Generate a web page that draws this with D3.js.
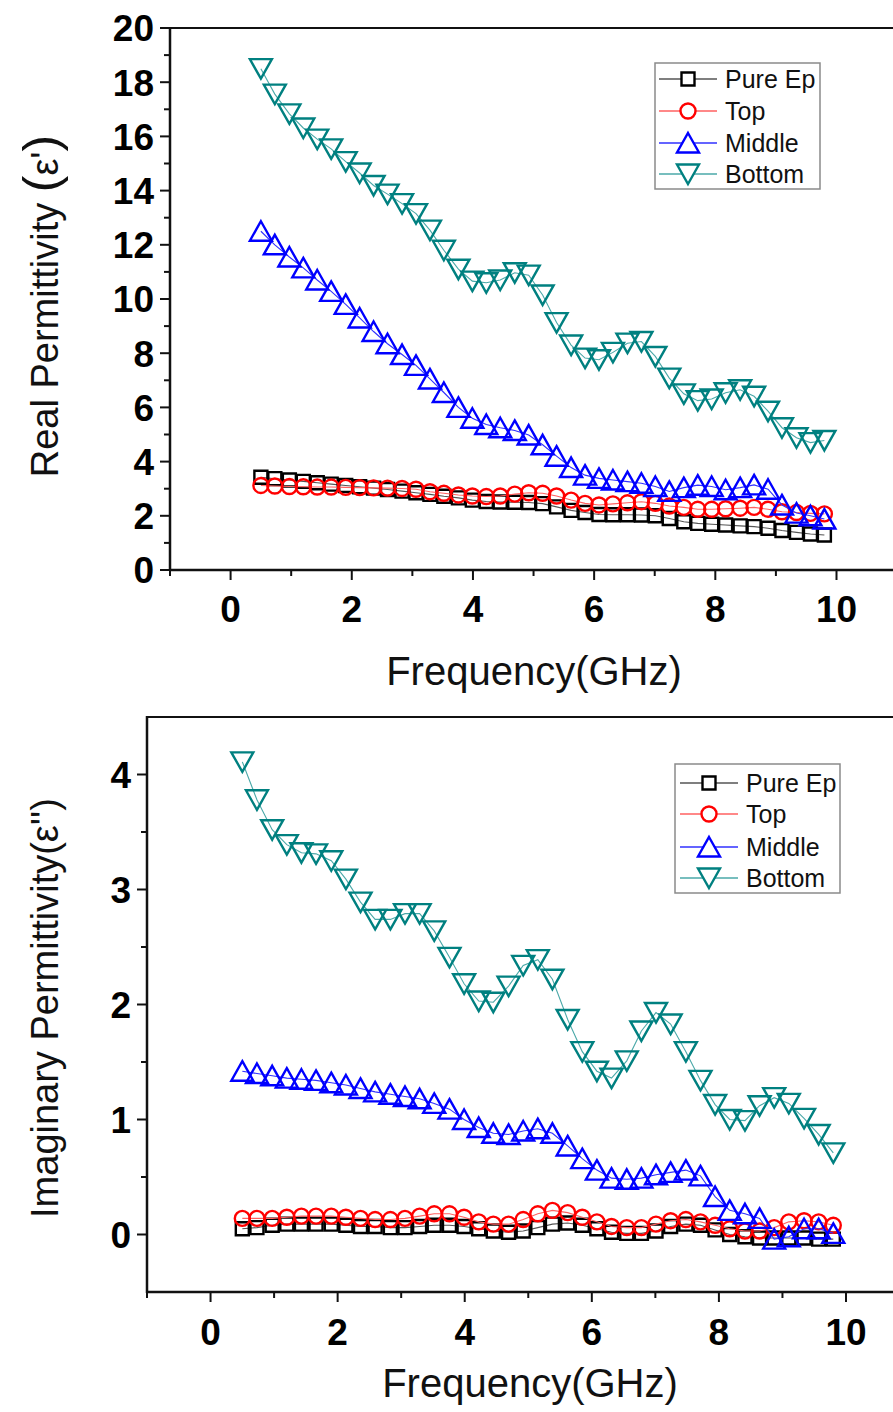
<!DOCTYPE html>
<html>
<head>
<meta charset="utf-8">
<script src="https://cdn.jsdelivr.net/npm/d3@7"></script>
<style>
  html, body { margin: 0; padding: 0; background: #fff; }
  svg { display: block; }
  text { font-family: "Liberation Sans", Arial, sans-serif; }
</style>
</head>
<body>
<svg id="chart" width="893" height="1412"></svg>
<script>
// ---------------- DATA ----------------
const freq = [0.50, 0.73, 0.97, 1.20, 1.43, 1.66, 1.90, 2.13, 2.36, 2.59, 2.83, 3.06, 3.29, 3.52, 3.76, 3.99, 4.22, 4.45, 4.69, 4.92, 5.15, 5.38, 5.62, 5.85, 6.08, 6.31, 6.55, 6.78, 7.01, 7.24, 7.48, 7.71, 7.94, 8.17, 8.41, 8.64, 8.87, 9.10, 9.34, 9.57, 9.80];

const seriesNames = ["Pure Ep", "Top", "Middle", "Bottom"];

// Real permittivity (ε')
const realPureEp = [3.42, 3.37, 3.32, 3.27, 3.22, 3.17, 3.12, 3.07, 3.02, 2.97, 2.91, 2.85, 2.79, 2.72, 2.66, 2.58, 2.53, 2.51, 2.50, 2.49, 2.45, 2.33, 2.20, 2.12, 2.05, 2.04, 2.04, 2.03, 2.00, 1.90, 1.78, 1.72, 1.69, 1.66, 1.63, 1.60, 1.54, 1.46, 1.39, 1.33, 1.29];
const realTop    = [3.12, 3.10, 3.08, 3.07, 3.06, 3.06, 3.05, 3.04, 3.03, 3.02, 3.01, 2.98, 2.89, 2.83, 2.77, 2.73, 2.71, 2.73, 2.80, 2.85, 2.83, 2.73, 2.58, 2.46, 2.40, 2.44, 2.48, 2.52, 2.46, 2.36, 2.31, 2.24, 2.24, 2.26, 2.28, 2.31, 2.24, 2.15, 2.12, 2.09, 2.07];
const realMiddle = [12.5, 12.0, 11.55, 11.15, 10.7, 10.28, 9.8, 9.3, 8.8, 8.35, 7.95, 7.55, 7.05, 6.55, 6.0, 5.6, 5.37, 5.25, 5.15, 4.98, 4.62, 4.2, 3.78, 3.5, 3.38, 3.32, 3.26, 3.2, 3.08, 2.9, 3.04, 3.13, 3.08, 2.96, 3.04, 3.14, 2.98, 2.4, 2.1, 2.0, 1.88];
const realBottom = [18.5, 17.56, 16.83, 16.31, 15.9, 15.54, 15.07, 14.65, 14.19, 13.87, 13.52, 13.15, 12.54, 11.8, 11.1, 10.66, 10.6, 10.7, 10.97, 10.88, 10.15, 9.13, 8.3, 7.82, 7.76, 8.03, 8.37, 8.43, 7.88, 7.08, 6.5, 6.25, 6.31, 6.54, 6.65, 6.41, 5.86, 5.25, 4.88, 4.7, 4.78];

// Imaginary permittivity (ε'')
const imagPureEp = [0.05, 0.06, 0.08, 0.09, 0.09, 0.09, 0.09, 0.08, 0.07, 0.07, 0.06, 0.06, 0.07, 0.08, 0.08, 0.07, 0.05, 0.03, 0.02, 0.03, 0.06, 0.09, 0.10, 0.08, 0.05, 0.02, 0.01, 0.01, 0.03, 0.07, 0.09, 0.08, 0.04, 0.00, -0.02, -0.03, -0.03, -0.03, -0.03, -0.04, -0.04];
const imagTop    = [0.14, 0.14, 0.14, 0.15, 0.16, 0.16, 0.16, 0.15, 0.14, 0.13, 0.13, 0.14, 0.16, 0.18, 0.18, 0.15, 0.11, 0.09, 0.09, 0.13, 0.18, 0.21, 0.19, 0.15, 0.11, 0.07, 0.06, 0.06, 0.09, 0.12, 0.13, 0.11, 0.08, 0.05, 0.03, 0.03, 0.06, 0.11, 0.12, 0.11, 0.08];
const imagMiddle = [1.42, 1.40, 1.38, 1.36, 1.35, 1.34, 1.32, 1.30, 1.27, 1.24, 1.22, 1.20, 1.18, 1.14, 1.09, 1.00, 0.93, 0.88, 0.87, 0.90, 0.92, 0.88, 0.77, 0.66, 0.56, 0.49, 0.48, 0.49, 0.52, 0.54, 0.56, 0.51, 0.33, 0.21, 0.18, 0.14, -0.04, -0.02, 0.05, 0.05, 0.01];
const imagBottom = [4.11, 3.78, 3.52, 3.39, 3.32, 3.31, 3.25, 3.09, 2.89, 2.74, 2.74, 2.79, 2.79, 2.64, 2.41, 2.18, 2.03, 2.02, 2.16, 2.34, 2.39, 2.22, 1.87, 1.59, 1.42, 1.36, 1.51, 1.77, 1.93, 1.83, 1.59, 1.34, 1.13, 1.00, 0.99, 1.12, 1.19, 1.14, 1.01, 0.87, 0.71];

const xMajorTicks = [0, 2, 4, 6, 8, 10];
const xMinorTicks = [-1, 1, 3, 5, 7, 9];
const realMajorTicks = [0, 2, 4, 6, 8, 10, 12, 14, 16, 18, 20];
const realMinorTicks = [1, 3, 5, 7, 9, 11, 13, 15, 17, 19];
const imagMajorTicks = [0, 1, 2, 3, 4];
const imagMinorTicks = [0.5, 1.5, 2.5, 3.5];

// ---------------- STYLE ----------------
const colors = ["#000000", "#ff0000", "#0000ff", "#008080"];
const lineColors = ["#555555", "#ff6060", "#3030ff", "#4aa8a8"];
const shapes = ["square", "circle", "up", "down"];

function markerPath(shape) {
  switch (shape) {
    case "square": return "M-6.5,-6.5H6.5V6.5H-6.5Z";
    case "circle": return "M7.5,0A7.5,7.5 0 1,1 -7.5,0A7.5,7.5 0 1,1 7.5,0Z";
    case "up": return "M0,-10L11,9.5L-11,9.5Z";
    case "down": return "M0,10L11,-9.5L-11,-9.5Z";
  }
}

const svg = d3.select("#chart");

function drawChart(cfg) {
  const g = svg.append("g");
  const x = d3.scaleLinear().domain([-1, 10]).range([cfg.x0, cfg.x10]);
  const y = d3.scaleLinear().domain(cfg.yDomain).range([cfg.yBottom, cfg.yTop]);
  const left = x(-1);

  // top frame line
  g.append("line").attr("x1", left).attr("x2", 900)
    .attr("y1", cfg.yTop).attr("y2", cfg.yTop)
    .attr("stroke", "#111").attr("stroke-width", 2.2);

  // x axis
  const xAxis = g.append("g");
  xAxis.append("line").attr("x1", left - 1).attr("x2", 900)
    .attr("y1", cfg.yBottom).attr("y2", cfg.yBottom)
    .attr("stroke", "#111").attr("stroke-width", 2.5);
  xAxis.selectAll(".xmaj").data(xMajorTicks).enter().append("line")
    .attr("x1", d => x(d)).attr("x2", d => x(d))
    .attr("y1", cfg.yBottom).attr("y2", cfg.yBottom + 10)
    .attr("stroke", "#111").attr("stroke-width", 2);
  xAxis.selectAll(".xmin").data(xMinorTicks).enter().append("line")
    .attr("x1", d => x(d)).attr("x2", d => x(d))
    .attr("y1", cfg.yBottom).attr("y2", cfg.yBottom + 6)
    .attr("stroke", "#111").attr("stroke-width", 2);
  xAxis.selectAll(".xlab").data(xMajorTicks).enter().append("text")
    .attr("x", d => x(d)).attr("y", cfg.xLabelY)
    .attr("text-anchor", "middle")
    .attr("font-size", 37).attr("font-weight", "bold").attr("fill", "#000")
    .text(d => d);

  // y axis
  const yAxis = g.append("g");
  yAxis.append("line").attr("x1", left).attr("x2", left)
    .attr("y1", cfg.yTop - 1).attr("y2", cfg.yBottom + 1)
    .attr("stroke", "#111").attr("stroke-width", 2.5);
  yAxis.selectAll(".ymaj").data(cfg.yMajor).enter().append("line")
    .attr("x1", left - 10).attr("x2", left)
    .attr("y1", d => y(d)).attr("y2", d => y(d))
    .attr("stroke", "#111").attr("stroke-width", 2);
  yAxis.selectAll(".ymin").data(cfg.yMinor).enter().append("line")
    .attr("x1", left - 6).attr("x2", left)
    .attr("y1", d => y(d)).attr("y2", d => y(d))
    .attr("stroke", "#111").attr("stroke-width", 2);
  yAxis.selectAll(".ylab").data(cfg.yMajor).enter().append("text")
    .attr("x", left - 16).attr("y", d => y(d))
    .attr("dy", "0.36em")
    .attr("text-anchor", "end")
    .attr("font-size", 37).attr("font-weight", "bold").attr("fill", "#000")
    .text(d => d);

  // axis titles
  g.append("text").attr("x", cfg.xTitleX).attr("y", cfg.xTitleY)
    .attr("text-anchor", "middle").attr("font-size", 40).attr("fill", "#111")
    .text("Frequency(GHz)");
  const yt = g.append("text")
    .attr("transform", `translate(${cfg.yTitleX},${cfg.yTitleY}) rotate(-90)`)
    .attr("text-anchor", "middle").attr("font-size", 38).attr("fill", "#111");
  cfg.yTitle.forEach(p => yt.append("tspan").attr("font-size", p.size || 38).text(p.t));

  // series
  const line = d3.line().x(d => x(d[0])).y(d => y(d[1]));
  cfg.series.forEach((vals, i) => {
    const pts = freq.map((f, j) => [f, vals[j]]);
    g.append("path").datum(pts).attr("d", line)
      .attr("fill", "none").attr("stroke", lineColors[i]).attr("stroke-width", 1.1);
    g.selectAll(".m" + i).data(pts).enter().append("path")
      .attr("transform", d => `translate(${x(d[0])},${y(d[1])})`)
      .attr("d", markerPath(shapes[i]))
      .attr("fill", "none").attr("stroke", colors[i]).attr("stroke-width", 2.4);
  });

  // legend
  const L = cfg.legend;
  const lg = g.append("g");
  lg.append("rect").attr("x", L.x).attr("y", L.y).attr("width", L.w).attr("height", L.h)
    .attr("fill", "#fff").attr("stroke", "#8a8a8a").attr("stroke-width", 1.5);
  seriesNames.forEach((name, i) => {
    const cy = L.rowY[i];
    lg.append("line").attr("x1", L.lx1).attr("x2", L.lx2).attr("y1", cy).attr("y2", cy)
      .attr("stroke", lineColors[i]).attr("stroke-width", 1.5);
    lg.append("path").attr("transform", `translate(${(L.lx1 + L.lx2) / 2},${cy})`)
      .attr("d", markerPath(shapes[i]))
      .attr("fill", "#fff").attr("stroke", colors[i]).attr("stroke-width", 2.4);
    lg.append("text").attr("x", L.tx).attr("y", cy).attr("dy", "0.36em")
      .attr("font-size", 25).attr("fill", "#111").text(name);
  });
}

drawChart({
  x0: 170, x10: 836.5,
  yDomain: [0, 20], yBottom: 570, yTop: 28,
  yMajor: realMajorTicks, yMinor: realMinorTicks,
  xLabelY: 622,
  xTitleX: 534, xTitleY: 685,
  yTitleX: 58, yTitleY: 306,
  yTitle: [{t: "Real Permittivity "}, {t: "(", size: 50}, {t: "ε'"}, {t: ")", size: 50}],
  series: [realPureEp, realTop, realMiddle, realBottom],
  legend: {x: 655, y: 63, w: 165, h: 126, rowY: [79, 111, 143, 174], lx1: 659, lx2: 717, tx: 725}
});

drawChart({
  x0: 147, x10: 846,
  yDomain: [-0.5, 4.5], yBottom: 1292, yTop: 717,
  yMajor: imagMajorTicks, yMinor: imagMinorTicks,
  xLabelY: 1345,
  xTitleX: 530, xTitleY: 1397,
  yTitleX: 58, yTitleY: 1008,
  yTitle: [{t: "Imaginary Permittivity(ε'')"}],
  series: [imagPureEp, imagTop, imagMiddle, imagBottom],
  legend: {x: 675, y: 764, w: 165, h: 129, rowY: [783, 814, 847, 878], lx1: 680, lx2: 738, tx: 746}
});
</script>
</body>
</html>
